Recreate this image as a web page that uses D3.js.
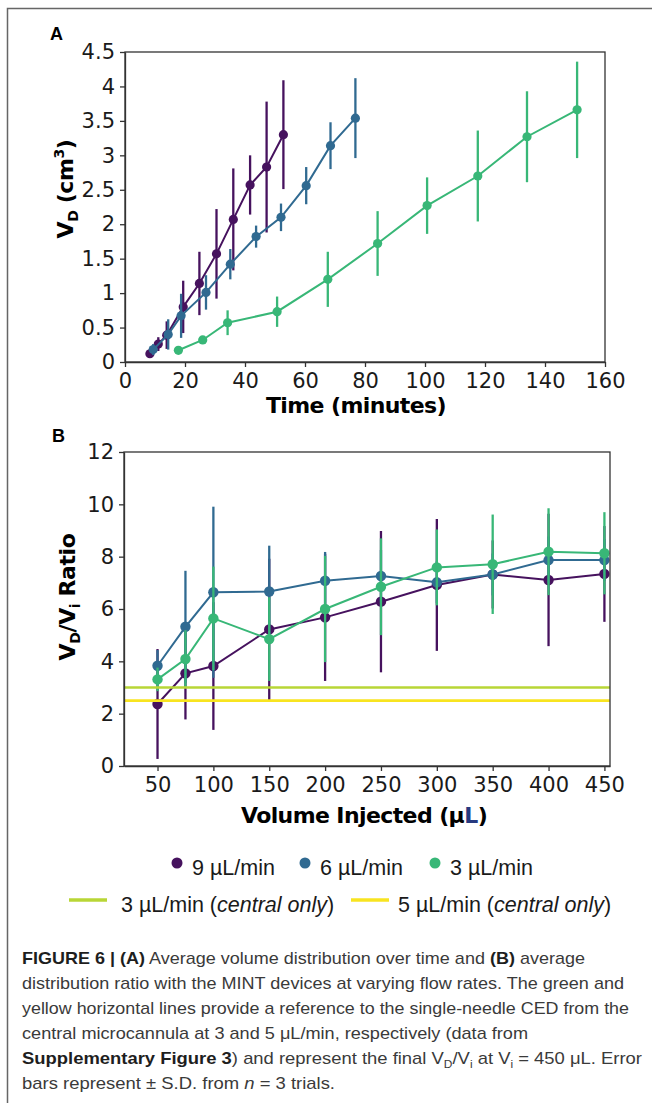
<!DOCTYPE html>
<html>
<head>
<meta charset="utf-8">
<script src="https://cdn.jsdelivr.net/npm/d3@7"></script>
<style>
  body { margin: 0; background: #fff; }
  svg text { font-family: "DejaVu Sans", sans-serif; }
</style>
</head>
<body>
<svg id="fig" width="652" height="1103"></svg>
<script>
// ---- panel A : V_D over time ----
var time9 = [8.3, 11.1, 13.9, 19.4, 24.8, 30.5, 36.1, 41.7, 47.2, 52.8];
var vd9   = [0.12, 0.26, 0.39, 0.80, 1.14, 1.57, 2.07, 2.57, 2.83, 3.30];
var vdErr9 = [0.05, 0.10, 0.20, 0.38, 0.46, 0.65, 0.74, 0.43, 0.95, 0.79];

var time6 = [9.4, 14.4, 18.7, 27.0, 35.1, 43.7, 52.0, 60.4, 68.5, 76.8];
var vd6   = [0.18, 0.40, 0.67, 1.01, 1.42, 1.82, 2.10, 2.56, 3.14, 3.54];
var vdErr6 = [0.08, 0.22, 0.32, 0.25, 0.22, 0.16, 0.20, 0.27, 0.34, 0.58];

var time3 = [17.8, 25.9, 34.2, 50.7, 67.6, 84.2, 100.7, 117.6, 134.0, 150.7];
var vd3   = [0.17, 0.32, 0.57, 0.73, 1.20, 1.72, 2.27, 2.70, 3.27, 3.66];
var vdErr3 = [0.02, 0.03, 0.18, 0.22, 0.40, 0.47, 0.41, 0.66, 0.66, 0.70];

var timeTicks = [0, 20, 40, 60, 80, 100, 120, 140, 160];
var vdTicks = [0, 0.5, 1, 1.5, 2, 2.5, 3, 3.5, 4, 4.5];

// ---- panel B : V_D/V_i ratio ----
var volumes = [50, 75, 100, 150, 200, 250, 300, 350, 400, 450];
var ratio9 = [2.37, 3.54, 3.82, 5.22, 5.68, 6.28, 6.92, 7.32, 7.11, 7.34];
var sd9    = [2.10, 1.76, 2.44, 2.70, 2.43, 2.70, 2.52, 1.30, 2.53, 1.83];
var ratio6 = [3.83, 5.32, 6.64, 6.67, 7.08, 7.26, 7.02, 7.32, 7.87, 7.87];
var sd6    = [0.60, 2.14, 3.27, 1.75, 1.10, 1.00, 0.80, 0.80, 0.90, 0.80];
var ratio3 = [3.31, 4.09, 5.64, 4.85, 6.00, 6.85, 7.59, 7.71, 8.19, 8.13];
var sd3    = [0.45, 1.10, 1.98, 1.60, 2.03, 1.85, 1.45, 1.90, 1.66, 1.57];

var centralOnly = [3.0, 2.5];   // 3 and 5 uL/min single needle
var volumeTicks = [50, 100, 150, 200, 250, 300, 350, 400, 450];
var ratioTicks = [0, 2, 4, 6, 8, 10, 12];

var seriesLabels = ["9 µL/min", "6 µL/min", "3 µL/min"];
var colors = ["#46125e", "#306a91", "#38b777"];
var refColors = ["#b8d636", "#f8e420"];

var svg = d3.select("#fig");

// outer frame (left + top only)
svg.append("path")
    .attr("d", "M7.5,1103V8.5H652")
    .attr("fill", "none")
    .attr("stroke", "#666")
    .attr("stroke-width", 1.5);

function styleAxis(g) {
    g.selectAll("path.domain").attr("stroke", "#333").attr("stroke-width", 1.3);
    g.selectAll(".tick line").attr("stroke", "#333").attr("stroke-width", 1.3);
    g.selectAll(".tick text")
        .attr("font-size", 21)
        .attr("fill", "#1a1a1a")
        .style("font-family", "'DejaVu Sans', sans-serif");
}

function drawSeries(g, x, y, xs, ys, errs, color, r) {
    var pts = xs.map(function(d, i) { return {x: d, y: ys[i], e: errs[i]}; });
    g.append("g").selectAll("line")
        .data(pts)
        .enter().append("line")
        .attr("x1", function(d) { return x(d.x); })
        .attr("x2", function(d) { return x(d.x); })
        .attr("y1", function(d) { return y(d.y - d.e); })
        .attr("y2", function(d) { return y(d.y + d.e); })
        .attr("stroke", color)
        .attr("stroke-width", 2.3);
    g.append("path")
        .datum(pts)
        .attr("fill", "none")
        .attr("stroke", color)
        .attr("stroke-width", 2)
        .attr("d", d3.line().x(function(d) { return x(d.x); }).y(function(d) { return y(d.y); }));
    g.append("g").selectAll("circle")
        .data(pts)
        .enter().append("circle")
        .attr("cx", function(d) { return x(d.x); })
        .attr("cy", function(d) { return y(d.y); })
        .attr("r", r)
        .attr("fill", color);
}

// ================= Panel A =================
var xA = d3.scaleLinear().domain([0, 160]).range([125, 605]);
var yA = d3.scaleLinear().domain([0, 4.5]).range([362, 52]);
var gA = svg.append("g");

var seriesA = [[time9, vd9, vdErr9], [time6, vd6, vdErr6], [time3, vd3, vdErr3]];
seriesA.forEach(function(s, i) {
    drawSeries(gA, xA, yA, s[0], s[1], s[2], colors[i], 4.6);
});

gA.append("rect")
    .attr("x", xA(0)).attr("y", yA(4.5))
    .attr("width", xA(160) - xA(0)).attr("height", yA(0) - yA(4.5))
    .attr("fill", "none").attr("stroke", "#333").attr("stroke-width", 1.3);

gA.append("g")
    .attr("transform", "translate(0," + yA(0) + ")")
    .call(d3.axisBottom(xA).tickValues(timeTicks).tickSize(5).tickSizeOuter(0).tickPadding(6).tickFormat(d3.format("d")))
    .call(styleAxis);
gA.append("g")
    .attr("transform", "translate(" + xA(0) + ",0)")
    .call(d3.axisLeft(yA).tickValues(vdTicks).tickSize(5).tickSizeOuter(0).tickPadding(5).tickFormat(function(d) { return String(d); }))
    .call(styleAxis);

gA.append("text")
    .attr("x", 356).attr("y", 413)
    .attr("text-anchor", "middle")
    .attr("font-size", 22).attr("font-weight", "bold")
    .attr("letter-spacing", -0.6)
    .text("Time (minutes)");

var yTitleA = gA.append("text")
    .attr("transform", "translate(73,189) rotate(-90)")
    .attr("text-anchor", "middle")
    .attr("font-size", 22).attr("font-weight", "bold")
    .attr("letter-spacing", -0.4);
yTitleA.append("tspan").text("V");
yTitleA.append("tspan").attr("font-size", 14).attr("dy", 5).text("D");
yTitleA.append("tspan").attr("dy", -5).text(" (cm");
yTitleA.append("tspan").attr("font-size", 14).attr("dy", -9).text("3");
yTitleA.append("tspan").attr("dy", 9).text(")");

svg.append("text")
    .attr("x", 50).attr("y", 40)
    .attr("font-size", 18).attr("font-weight", "bold")
    .style("font-family", "'Liberation Sans', Arial, sans-serif")
    .text("A");

// ================= Panel B =================
var xB = d3.scaleLinear().domain([20, 455]).range([124, 610]);
var yB = d3.scaleLinear().domain([0, 12]).range([766, 452]);
var gB = svg.append("g");

var seriesB = [[ratio9, sd9], [ratio6, sd6], [ratio3, sd3]];
seriesB.forEach(function(s, i) {
    drawSeries(gB, xB, yB, volumes, s[0], s[1], colors[i], 5.2);
});

gB.append("g").selectAll("line")
    .data(centralOnly)
    .enter().append("line")
    .attr("x1", xB(20)).attr("x2", xB(455))
    .attr("y1", function(d) { return yB(d); })
    .attr("y2", function(d) { return yB(d); })
    .attr("stroke", function(d, i) { return refColors[i]; })
    .attr("stroke-width", 2.6);

gB.append("rect")
    .attr("x", xB(20)).attr("y", yB(12))
    .attr("width", xB(455) - xB(20)).attr("height", yB(0) - yB(12))
    .attr("fill", "none").attr("stroke", "#333").attr("stroke-width", 1.3);

gB.append("g")
    .attr("transform", "translate(0," + yB(0) + ")")
    .call(d3.axisBottom(xB).tickValues(volumeTicks).tickSize(5).tickSizeOuter(0).tickPadding(6).tickFormat(d3.format("d")))
    .call(styleAxis);
gB.append("g")
    .attr("transform", "translate(" + xB(20) + ",0)")
    .call(d3.axisLeft(yB).tickValues(ratioTicks).tickSize(5).tickSizeOuter(0).tickPadding(5).tickFormat(d3.format("d")))
    .call(styleAxis);

var xTitleB = gB.append("text")
    .attr("x", 364).attr("y", 823)
    .attr("text-anchor", "middle")
    .attr("font-size", 22).attr("font-weight", "bold")
    .attr("letter-spacing", -0.6);
xTitleB.append("tspan").text("Volume Injected (µ");
xTitleB.append("tspan").attr("fill", "#27397f").text("L");
xTitleB.append("tspan").text(")");

var yTitleB = gB.append("text")
    .attr("transform", "translate(75,597) rotate(-90)")
    .attr("text-anchor", "middle")
    .attr("font-size", 22).attr("font-weight", "bold")
    .attr("letter-spacing", -0.4);
yTitleB.append("tspan").text("V");
yTitleB.append("tspan").attr("font-size", 14).attr("dy", 5).text("D");
yTitleB.append("tspan").attr("dy", -5).text("/V");
yTitleB.append("tspan").attr("font-size", 14).attr("dy", 5).text("i");
yTitleB.append("tspan").attr("dy", -5).text(" Ratio");

svg.append("text")
    .attr("x", 52).attr("y", 442)
    .attr("font-size", 18).attr("font-weight", "bold")
    .style("font-family", "'Liberation Sans', Arial, sans-serif")
    .text("B");

// ================= Legend =================
var legFont = "'Liberation Sans', Arial, sans-serif";
var legDotX = [177, 305, 435];
var leg = svg.append("g");
seriesLabels.forEach(function(lab, i) {
    leg.append("circle")
        .attr("cx", legDotX[i]).attr("cy", 863).attr("r", 5.5)
        .attr("fill", colors[i]);
    leg.append("text")
        .attr("x", legDotX[i] + 15).attr("y", 875)
        .attr("font-size", 21.5).attr("fill", "#1a1a1a")
        .style("font-family", legFont)
        .text(lab);
});

var refLabels = ["3 µL/min (", "5 µL/min ("];
var refLegX = [69, 351];
refLabels.forEach(function(lab, i) {
    leg.append("line")
        .attr("x1", refLegX[i]).attr("x2", refLegX[i] + 38)
        .attr("y1", 900).attr("y2", 900)
        .attr("stroke", refColors[i]).attr("stroke-width", 3.5);
    var t = leg.append("text")
        .attr("x", refLegX[i] + (i === 0 ? 52 : 47)).attr("y", 912)
        .attr("font-size", 21.5).attr("fill", "#1a1a1a")
        .style("font-family", legFont);
    t.append("tspan").text(lab);
    t.append("tspan").attr("font-style", "italic").text("central only");
    t.append("tspan").text(")");
});

// ================= Caption =================
var captionLines = [
    [["FIGURE 6 | (A)", "b"], [" Average volume distribution over time and ", ""], ["(B)", "b"], [" average", ""]],
    [["distribution ratio with the MINT devices at varying flow rates. The green and", ""]],
    [["yellow horizontal lines provide a reference to the single-needle CED from the", ""]],
    [["central microcannula at 3 and 5 μL/min, respectively (data from", ""]],
    [["Supplementary Figure 3", "b"], [") and represent the final V", ""], ["D", "sub"], ["/V", ""], ["i", "sub"],
     [" at V", ""], ["i", "sub"], [" = 450 μL. Error", ""]],
    [["bars represent ± S.D. from ", ""], ["n", "i"], [" = 3 trials.", ""]]
];
var captionEnds = [585, 624, 629, 528, 642, 335];

var cap = svg.append("g");
captionLines.forEach(function(line, i) {
    var t = cap.append("text")
        .attr("x", 22).attr("y", 964 + i * 25)
        .attr("font-size", 17).attr("fill", "#3a3a3a")
        .attr("textLength", captionEnds[i] - 22)
        .attr("lengthAdjust", "spacingAndGlyphs")
        .style("font-family", legFont);
    line.forEach(function(seg) {
        var s = t.append("tspan").text(seg[0]);
        if (seg[1] === "b") s.attr("font-weight", "bold").attr("fill", "#1e1e1e");
        if (seg[1] === "i") s.attr("font-style", "italic");
        if (seg[1] === "sub") s.attr("font-size", 11).attr("baseline-shift", "-4");
    });
});
</script>
</body>
</html>
